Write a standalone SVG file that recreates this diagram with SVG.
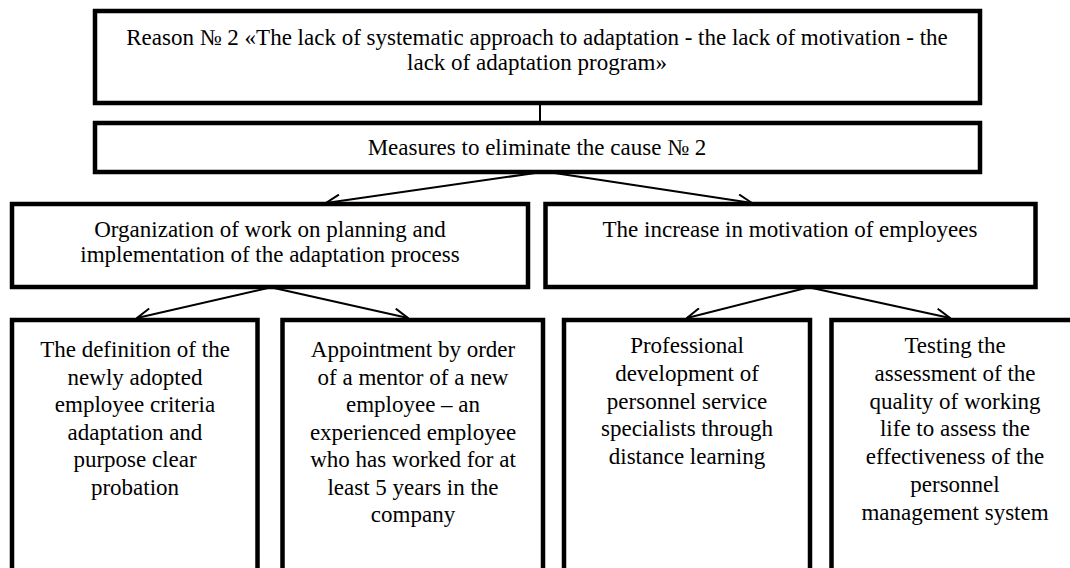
<svg xmlns="http://www.w3.org/2000/svg" width="1070" height="568" viewBox="0 0 1070 568">
<style>
.box{fill:#fff;stroke:#000;stroke-width:4.5}
.t{font-family:"Liberation Serif","Times New Roman",serif;font-size:23px;fill:#000;text-anchor:middle}
.c{stroke:#000;stroke-width:2;fill:none}
</style>
<defs>
<marker id="ah" viewBox="0 0 16 14" refX="15" refY="7" markerWidth="16" markerHeight="14" markerUnits="userSpaceOnUse" orient="auto">
<path d="M1,0.5 L15,7 L1,13.5" fill="none" stroke="#000" stroke-width="2"/>
</marker>
</defs>
<rect width="1070" height="568" fill="#fff"/>
<g id="connectors">
<line class="c" x1="540" y1="103" x2="540" y2="123"/>
<line class="c" x1="542" y1="172" x2="326" y2="203" marker-end="url(#ah)"/>
<line class="c" x1="548" y1="172" x2="752" y2="203" marker-end="url(#ah)"/>
<line class="c" x1="268" y1="288" x2="137" y2="318" marker-end="url(#ah)"/>
<line class="c" x1="274" y1="288" x2="408" y2="318" marker-end="url(#ah)"/>
<line class="c" x1="806" y1="288" x2="687" y2="318" marker-end="url(#ah)"/>
<line class="c" x1="812" y1="288" x2="950" y2="318" marker-end="url(#ah)"/>
</g>
<g id="reason">
<rect class="box" x="95" y="11" width="885" height="92"/>
<text class="t" x="537" y="45">Reason № 2 «The lack of systematic approach to adaptation - the lack of motivation - the</text>
<text class="t" x="537" y="70">lack of adaptation program»</text>
</g>
<g id="measures">
<rect class="box" x="95" y="123" width="885" height="49"/>
<text class="t" x="537" y="155">Measures to eliminate the cause № 2</text>
</g>
<g id="organization">
<rect class="box" x="12" y="204" width="516" height="83"/>
<text class="t" x="270" y="237">Organization of work on planning and</text>
<text class="t" x="270" y="262">implementation of the adaptation process</text>
</g>
<g id="motivation">
<rect class="box" x="545.5" y="204" width="490" height="83"/>
<text class="t" x="790" y="237">The increase in motivation of employees</text>
</g>
<g id="definition">
<rect class="box" x="12" y="320" width="245.5" height="260"/>
<text class="t" x="135" y="357">The definition of the</text>
<text class="t" x="135" y="384.5">newly adopted</text>
<text class="t" x="135" y="412">employee criteria</text>
<text class="t" x="135" y="439.5">adaptation and</text>
<text class="t" x="135" y="467">purpose clear</text>
<text class="t" x="135" y="494.5">probation</text>
</g>
<g id="mentor">
<rect class="box" x="282.5" y="320" width="260.5" height="260"/>
<text class="t" x="413" y="357">Appointment by order</text>
<text class="t" x="413" y="384.5">of a mentor of a new</text>
<text class="t" x="413" y="412">employee – an</text>
<text class="t" x="413" y="439.5">experienced employee</text>
<text class="t" x="413" y="467">who has worked for at</text>
<text class="t" x="413" y="494.5">least 5 years in the</text>
<text class="t" x="413" y="522">company</text>
</g>
<g id="professional">
<rect class="box" x="564" y="320" width="246" height="260"/>
<text class="t" x="687" y="353">Professional</text>
<text class="t" x="687" y="380.8">development of</text>
<text class="t" x="687" y="408.6">personnel service</text>
<text class="t" x="687" y="436.4">specialists through</text>
<text class="t" x="687" y="464.2">distance learning</text>
</g>
<g id="testing">
<rect class="box" x="831.5" y="320" width="250" height="260"/>
<text class="t" x="955" y="353">Testing the</text>
<text class="t" x="955" y="380.8">assessment of the</text>
<text class="t" x="955" y="408.6">quality of working</text>
<text class="t" x="955" y="436.4">life to assess the</text>
<text class="t" x="955" y="464.2">effectiveness of the</text>
<text class="t" x="955" y="492">personnel</text>
<text class="t" x="955" y="519.8">management system</text>
</g>
</svg>
